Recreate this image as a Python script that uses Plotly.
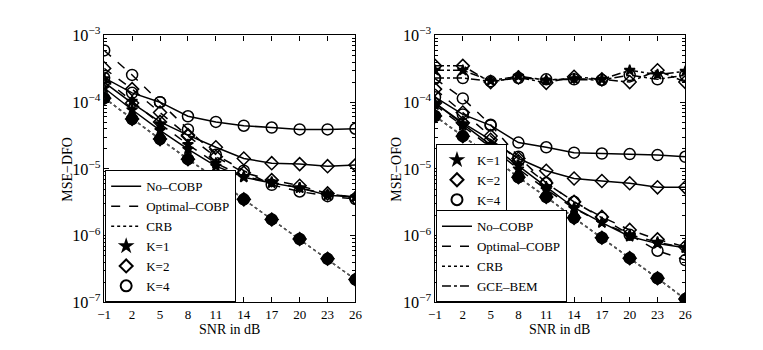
import plotly.graph_objects as go
from plotly.subplots import make_subplots

snr_db = [-1, 2, 5, 8, 11, 14, 17, 20, 23, 26]
k_labels = ["K=1", "K=2", "K=4"]

# left panel: MSE-DFO
dfo_no_cobp = {
    "K=1": [1.63e-4, 7.7e-5, 3.78e-5, 1.98e-5, 1.10e-5, 7.5e-6, 6.15e-6, 5.2e-6, 4.04e-6, 3.78e-6],
    "K=2": [1.98e-4, 9.7e-5, 5.06e-5, 3.21e-5, 2.11e-5, 1.43e-5, 1.22e-5, 1.18e-5, 1.10e-5, 1.14e-5],
    "K=4": [2.32e-4, 1.38e-4, 1.0e-4, 6.15e-5, 5.06e-5, 4.44e-5, 4.17e-5, 3.91e-5, 3.91e-5, 4.0e-5],
}
dfo_optimal = {
    "K=1": [2.25e-4, 1.03e-4, 4.74e-5, 2.32e-5, 1.22e-5, 7.7e-6, 6.35e-6, 5.2e-6, 4.17e-6, 3.78e-6],
    "K=2": [3.21e-4, 1.57e-4, 7.0e-5, 3.11e-5, 1.52e-5, 8.8e-6, 6.8e-6, 5.6e-6, 4.3e-6, 3.66e-6],
    "K=4": [5.96e-4, 2.56e-4, 1.0e-4, 3.91e-5, 1.63e-5, 9.4e-6, 5.77e-6, 4.59e-6, 3.91e-6, 3.54e-6],
}
dfo_crb = [1.15e-4, 5.6e-5, 2.8e-5, 1.4e-5, 7.2e-6, 3.5e-6, 1.75e-6, 8.9e-7, 4.5e-7, 2.2e-7]

# right panel: MSE-OFO
ofo_no_cobp = {
    "K=1": [9.7e-5, 4.74e-5, 2.32e-5, 1.14e-5, 5.4e-6, 2.62e-6, 1.57e-6, 9.7e-7, 7.6e-7, 6.6e-7],
    "K=2": [9.7e-5, 4.9e-5, 2.73e-5, 1.43e-5, 9.4e-6, 7.2e-6, 6.6e-6, 6.1e-6, 5.3e-6, 5.3e-6],
    "K=4": [1.19e-4, 6.56e-5, 4.49e-5, 2.48e-5, 2.11e-5, 1.75e-5, 1.70e-5, 1.67e-5, 1.61e-5, 1.52e-5],
}
ofo_optimal = {
    "K=1": [9.1e-5, 4.44e-5, 2.11e-5, 1.0e-5, 4.9e-6, 2.56e-6, 1.57e-6, 1.03e-6, 8.0e-7, 6.56e-7],
    "K=2": [1.57e-4, 7.0e-5, 3.11e-5, 1.30e-5, 6.15e-6, 3.21e-6, 1.91e-6, 1.22e-6, 8.8e-7, 6.8e-7],
    "K=4": [2.25e-4, 1.14e-4, 4.6e-5, 1.52e-5, 6.15e-6, 3.21e-6, 1.85e-6, 1.03e-6, 5.95e-7, 4.3e-7],
}
ofo_gce_bem = {
    "K=1": [3.0e-4, 3.0e-4, 2.1e-4, 2.45e-4, 2.15e-4, 2.25e-4, 2.2e-4, 3.0e-4, 2.6e-4, 2.9e-4],
    "K=2": [3.5e-4, 3.5e-4, 2.0e-4, 2.35e-4, 1.95e-4, 2.4e-4, 2.2e-4, 2.0e-4, 3.0e-4, 2.0e-4],
    "K=4": [2.3e-4, 2.3e-4, 2.05e-4, 2.3e-4, 2.2e-4, 2.2e-4, 2.15e-4, 2.55e-4, 2.2e-4, 2.55e-4],
}
ofo_crb = [6.2e-5, 3.1e-5, 1.55e-5, 7.5e-6, 3.8e-6, 1.85e-6, 9.3e-7, 4.6e-7, 2.3e-7, 1.12e-7]

FONT = "Liberation Serif"
open_sym = {"K=1": "star", "K=2": "diamond-open", "K=4": "circle-open"}
fill_sym = {"K=1": "star", "K=2": "diamond", "K=4": "circle"}
msize = {"K=1": 8, "K=2": 10, "K=4": 11}


def curve(y, dash, sym, k, width=1.5, color="black"):
    return go.Scatter(
        x=snr_db, y=y, mode="lines+markers", showlegend=False,
        line=dict(color=color, width=width, dash=dash),
        marker=dict(symbol=sym, size=msize[k], color="black",
                    line=dict(color="black", width=1.5)),
    )


fig = make_subplots(rows=1, cols=2)

for k in k_labels:
    fig.add_trace(curve(dfo_crb, "dot", fill_sym[k], k, 1.5, "#555"), 1, 1)
    fig.add_trace(curve(ofo_crb, "dot", fill_sym[k], k, 1.5, "#555"), 1, 2)
for k in k_labels:
    fig.add_trace(curve(ofo_gce_bem[k], "dashdot", open_sym[k], k), 1, 2)
for k in k_labels:
    fig.add_trace(curve(dfo_no_cobp[k], "solid", open_sym[k], k), 1, 1)
    fig.add_trace(curve(dfo_optimal[k], "dash", open_sym[k], k), 1, 1)
    fig.add_trace(curve(ofo_no_cobp[k], "solid", open_sym[k], k), 1, 2)
    fig.add_trace(curve(ofo_optimal[k], "dash", open_sym[k], k), 1, 2)


# legend-only entries
def line_entry(name, dash, legend):
    return go.Scatter(x=[None], y=[None], mode="lines", name=name, legend=legend,
                      line=dict(color="black", width=1.5, dash=dash))


def marker_entry(k, legend):
    return go.Scatter(x=[None], y=[None], mode="markers", name=k, legend=legend,
                      marker=dict(symbol=open_sym[k], size=msize[k], color="black",
                                  line=dict(color="black", width=2)))


fig.add_trace(line_entry("No–COBP", "solid", "legend"), 1, 1)
fig.add_trace(line_entry("Optimal–COBP", "dash", "legend"), 1, 1)
fig.add_trace(line_entry("CRB", "dot", "legend"), 1, 1)
for k in k_labels:
    fig.add_trace(marker_entry(k, "legend"), 1, 1)
for k in k_labels:
    fig.add_trace(marker_entry(k, "legend2"), 1, 2)
fig.add_trace(line_entry("No–COBP", "solid", "legend3"), 1, 2)
fig.add_trace(line_entry("Optimal–COBP", "dash", "legend3"), 1, 2)
fig.add_trace(line_entry("CRB", "dot", "legend3"), 1, 2)
fig.add_trace(line_entry("GCE–BEM", "dashdot", "legend3"), 1, 2)

W, H = 763, 350
ytop, ybot = 26, 310
dom_y = [1 - ybot / H, 1 - ytop / H]

axis_common = dict(
    showline=True, linecolor="black", linewidth=1.2, mirror="allticks",
    ticks="inside", ticklen=5, tickcolor="black", showgrid=False, zeroline=False,
    tickfont=dict(family=FONT, size=13, color="black"),
)
xaxis_kw = dict(axis_common, range=[-1, 26], tickvals=snr_db)
yaxis_kw = dict(axis_common, type="log", range=[-7, -3], dtick=1, exponentformat="power",
                minor=dict(ticks="inside", ticklen=3, tickcolor="black", showgrid=False))

fig.update_layout(
    xaxis=dict(xaxis_kw, domain=[99 / W, 355 / W], anchor="y"),
    xaxis2=dict(xaxis_kw, domain=[436 / W, 691 / W], anchor="y2"),
    yaxis=dict(yaxis_kw, domain=dom_y, anchor="x"),
    yaxis2=dict(yaxis_kw, domain=dom_y, anchor="x2"),
)

legend_common = dict(
    bgcolor="white", bordercolor="black", borderwidth=1,
    font=dict(family=FONT, size=13, color="black"),
    xanchor="left", yanchor="bottom", tracegroupgap=0, itemsizing="trace", itemwidth=30,
)
fig.update_layout(
    legend=dict(legend_common, x=100 / W, y=1 - 310 / H),
    legend2=dict(legend_common, x=437 / W, y=1 - 218 / H),
    legend3=dict(legend_common, x=437 / W, y=1 - 310 / H),
)

for xc, text in [(227, "SNR in dB"), (563, "SNR in dB")]:
    fig.add_annotation(x=xc / W, y=1 - 339 / H, xref="paper", yref="paper", text=text,
                       xanchor="center", yanchor="middle", showarrow=False,
                       font=dict(family=FONT, size=14, color="black"))
for xc, text in [(62, "MSE−DFO"), (397, "MSE−OFO")]:
    fig.add_annotation(x=xc / W, y=1 - 168 / H, xref="paper", yref="paper", text=text,
                       xanchor="center", yanchor="middle", textangle=-90, showarrow=False,
                       font=dict(family=FONT, size=14, color="black"))

fig.update_layout(
    width=W, height=H, margin=dict(l=0, r=0, t=0, b=0),
    paper_bgcolor="white", plot_bgcolor="white",
    font=dict(family=FONT, color="black"),
)

fig.write_html("out.html", config={"displayModeBar": False},
               post_script="document.body.style.margin='0';"
                           "document.body.style.overflow='hidden';")
